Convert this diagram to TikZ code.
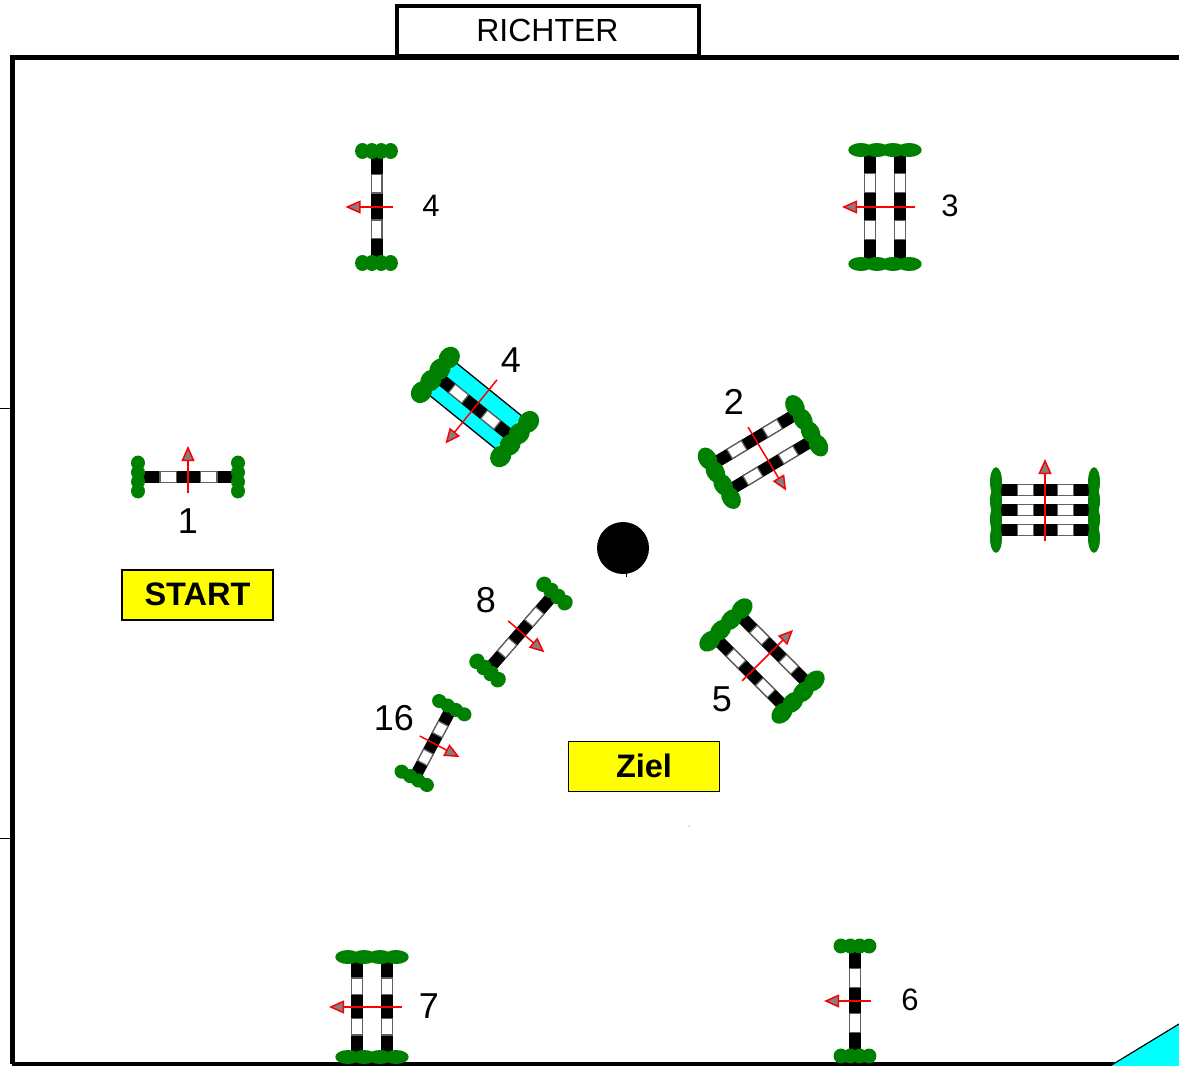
\documentclass[tikz,border=0pt]{standalone}
\usepackage{fontspec}
\setmainfont{Liberation Sans}
\usetikzlibrary{arrows.meta}
\definecolor{watercyan}{RGB}{0,255,255}
\definecolor{signyellow}{RGB}{255,255,0}
\definecolor{hedgegreen}{RGB}{0,128,0}

% #1 centre, #2 rotation, #3 half length, #4 rail offsets, #5 hedge half width, #6 tip, #7 tail, #8 hedge thickness
\newcommand{\jump}[8]{
    \begin{scope}[shift={(#1)}, rotate=#2]
        \foreach \rail in {#4} {
            \fill[black] (-#3,\rail-6) rectangle (#3,\rail+6);
            \draw[whitebar] (-.61*#3,\rail-5.4) rectangle (-.25*#3,\rail+5.4);
            \draw[whitebar] (.27*#3,\rail-5.4) rectangle (.63*#3,\rail+5.4);
        }
        \foreach \side in {-1,1} {
            \foreach \k in {-1,-.33,.33,1} {
                \fill[hedge] (\side*#3+\side*4,\k*#5*.67) ellipse (#8 and .35*#5);
            }
        }
        \draw[direction] (0,#7) -- (0,-#6);
    \end{scope}
}

\begin{document}
\begin{tikzpicture}[
        x=1pt, y=-1pt,
        every node/.style={font=\fontsize{31}{36}\selectfont},
        whitebar/.style={draw=gray!75!black, fill=white, line width=1.2pt},
        hedge/.style={fill=hedgegreen},
        direction/.style={draw=red, line width=1.5pt, -{Triangle[length=15pt, width=13pt, fill=gray, line width=1.5pt]}},
        wall/.style={draw=black, line width=5pt},
        judgebox/.style={draw, line width=4.5pt, fill=white, minimum width=302pt, minimum height=50pt, inner sep=0pt},
        signbox/.style={draw, line width=1.2pt, fill=signyellow, minimum width=151pt, minimum height=50pt, inner sep=0pt, font=\fontsize{32.5}{36}\selectfont\bfseries},
        numlabel/.style={inner sep=0pt},
        biglabel/.style={inner sep=0pt, font=\fontsize{36}{40}\selectfont}
    ]
    \useasboundingbox (0,0) rectangle (1179,1066);

    % arena
    \draw[wall] (12,1064) -- (12,57) -- (1179,57);
    \draw[wall] (12,1064) -- (1115,1064);
    \draw[line width=.8pt] (0,408.5) -- (10,408.5);
    \draw[line width=.8pt] (0,838) -- (10,838);
    \fill[watercyan] (1110,1066) -- (1179,1024) -- (1179,1066) -- cycle;
    \draw[line width=1.2pt] (1110,1066) -- (1179,1024);
    \node[judgebox] (judge) at (548,31) {};
    \node[numlabel, font=\fontsize{32}{36}\selectfont] (judgetext) at (547.5,30) {RICHTER};

    % water under the jump
    \begin{scope}[shift={(475.5,405.5)}, rotate=-39]
        \fill[watercyan] (-43,-21) rectangle (43,21);
        \draw[line width=1.3pt] (-43,-21) -- (43,-21);
        \draw[line width=1.3pt] (-43,21) -- (43,21);
    \end{scope}

    % jumps
    \jump{188,477}{0}{46}{0}{21}{31}{16}{7}
    \jump{376.5,207}{90}{52}{0}{21}{31}{16}{8}
    \jump{885,207}{90}{53}{-15,15}{36}{43}{30}{7}
    \jump{475,407}{141}{47}{0}{33}{47}{35}{10}
    \jump{763,452}{211}{47}{-15.5,15.5}{34}{45}{29}{9}
    \jump{1045,510}{0}{45}{-20,0,20}{42}{51}{31}{6}
    \jump{762,661}{-45}{47}{-16.5,16.5}{34}{44}{28}{9}
    \jump{521,632}{229}{47}{0}{21}{31}{17}{8}
    \jump{433,743}{242}{36}{0}{21}{30}{15}{7}
    \jump{372,1007}{90}{46}{-15,15}{36}{43}{30}{7}
    \jump{855,1001}{90}{51}{0}{21}{31}{16}{7.5}

    % turning point
    \fill (623,548) circle (26);
    \draw[line width=.5pt] (626,572) -- (626,577);
    \fill[gray] (689,826) circle (.6);

    \node[signbox] (start) at (197.5,595) {\raisebox{1.5pt}{START}};
    \node[signbox] (finish) at (644,766.5) {\raisebox{1.5pt}{Ziel}};

    \node[biglabel] (num1) at (188,521) {1};
    \node[biglabel] (num2) at (734,402) {2};
    \node[numlabel] (num3) at (950,206) {3};
    \node[numlabel] (num4a) at (431,206) {4};
    \node[biglabel] (num4b) at (511,360) {4};
    \node[biglabel] (num5) at (722,699) {5};
    \node[numlabel] (num6) at (910,1000) {6};
    \node[biglabel] (num7) at (429,1006) {7};
    \node[biglabel] (num8) at (486,600) {8};
    \node[biglabel] (num16) at (394,718) {16};
\end{tikzpicture}
\end{document}
